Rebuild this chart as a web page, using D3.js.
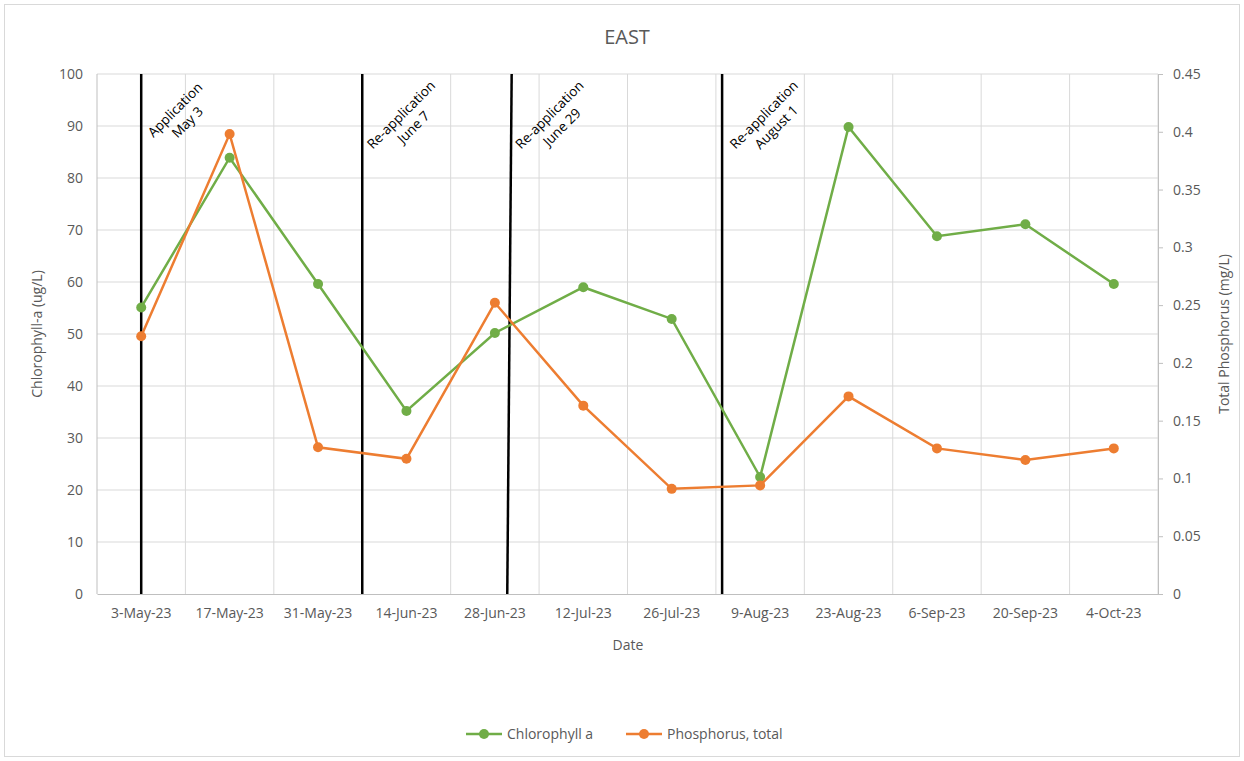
<!DOCTYPE html>
<html><head><meta charset="utf-8">
<script src="https://cdn.jsdelivr.net/npm/d3@7"></script>
<style>body{margin:0;background:#fff}svg{display:block}text{font-family:"Open Sans",sans-serif}</style>
</head><body><svg id="c" width="1244" height="761"></svg>
<script>
const dates = ["3-May-23","17-May-23","31-May-23","14-Jun-23","28-Jun-23","12-Jul-23","26-Jul-23","9-Aug-23","23-Aug-23","6-Sep-23","20-Sep-23","4-Oct-23"];
const chlorophyll = [55.1, 83.9, 59.6, 35.2, 50.2, 59.0, 52.9, 22.5, 89.8, 68.8, 71.1, 59.6];
const phosphorus = [0.223, 0.398, 0.127, 0.117, 0.252, 0.163, 0.091, 0.094, 0.171, 0.126, 0.116, 0.126];
const leftTicks = [0,10,20,30,40,50,60,70,80,90,100];
const rightTicks = [0,0.05,0.1,0.15,0.2,0.25,0.3,0.35,0.4,0.45];
// application events: position expressed as fractional category index (top, bottom)
const eventLabels = [["Application","May 3"],["Re-application","June 7"],["Re-application","June 29"],["Re-application","August 1"]];
const eventPosTop = [0, 2.50, 4.19, 6.57];
const eventPosBottom = [0, 2.50, 4.14, 6.57];

const svg = d3.select("#c");
const m = {l:97, r:1158, t:74, b:594};
svg.append("rect").attr("x",4.5).attr("y",4.5).attr("width",1235).attr("height",752).attr("fill","#fff").attr("stroke","#D9D9D9");

const x = d3.scaleBand().domain(dates).range([m.l,m.r]);
const xi = d3.scaleLinear().domain([-0.5, dates.length-0.5]).range([m.l,m.r]);
const yL = d3.scaleLinear().domain([0,100]).range([m.b,m.t]);
const yR = d3.scaleLinear().domain([0,0.45]).range([m.b,m.t]);
const cx = d => x(d)+x.bandwidth()/2;
const grey="#595959";

// gridlines
const g = svg.append("g");
g.selectAll(".h").data(leftTicks.slice(1)).join("line")
  .attr("x1",m.l).attr("x2",m.r).attr("y1",d=>yL(d)).attr("y2",d=>yL(d)).attr("stroke","#D9D9D9");
g.selectAll(".v").data(d3.range(1,dates.length+1)).join("line")
  .attr("x1",i=>xi(i-0.5)).attr("x2",i=>xi(i-0.5)).attr("y1",m.t).attr("y2",m.b).attr("stroke","#D9D9D9");

// axes
const axL = svg.append("g").attr("transform",`translate(${m.l},0)`).call(d3.axisLeft(yL).tickValues(leftTicks).tickSize(0).tickPadding(14));
const axR = svg.append("g").attr("transform",`translate(${m.r},0)`).call(d3.axisRight(yR).tickValues(rightTicks).tickSize(5).tickPadding(10).tickFormat(d=>String(+d.toFixed(2))));
const axB = svg.append("g").attr("transform",`translate(0,${m.b})`).call(d3.axisBottom(x).tickSize(0).tickPadding(14));
[axL,axR,axB].forEach(a=>{a.select(".domain").attr("stroke","#BFBFBF");a.selectAll(".tick line").attr("stroke","#BFBFBF");a.selectAll("text").attr("fill",grey).attr("font-size",14);});
axL.select(".domain").remove();
svg.append("line").attr("x1",m.l).attr("x2",m.l).attr("y1",m.t).attr("y2",m.b).attr("stroke","#BFBFBF");

// event lines
const labelOffset = [40, 45, 44, 48];
eventLabels.forEach((lab,i)=>{
  const xt = xi(eventPosTop[i]), xb = xi(eventPosBottom[i]);
  svg.append("line").attr("x1",xt).attr("x2",xb).attr("y1",m.t).attr("y2",m.b).attr("stroke","#000").attr("stroke-width",2.5);
  const tx = xt+labelOffset[i], ty = i===0 ? 116 : 121;
  const t = svg.append("text").attr("transform",`translate(${tx},${ty}) rotate(-45)`).attr("text-anchor","middle").attr("font-size",13.5).attr("fill","#000");
  t.append("tspan").attr("x",0).attr("dy","-0.3em").text(lab[0]);
  t.append("tspan").attr("x",0).attr("dy","1.3em").text(lab[1]);
});

// series
const green="#70AD47", orange="#ED7D31";
function series(vals, ys, col){
  svg.append("path").datum(vals).attr("fill","none").attr("stroke",col).attr("stroke-width",2.5)
    .attr("d",d3.line().x((d,i)=>cx(dates[i])).y(d=>ys(d)));
  svg.append("g").selectAll("circle").data(vals).join("circle")
    .attr("cx",(d,i)=>cx(dates[i])).attr("cy",d=>ys(d)).attr("r",5).attr("fill",col);
}
series(chlorophyll, yL, green);
series(phosphorus, yR, orange);

// titles
svg.append("text").attr("x",627).attr("y",44).attr("text-anchor","middle").attr("font-size",20).attr("fill",grey).text("EAST");
svg.append("text").attr("x",628).attr("y",650).attr("text-anchor","middle").attr("font-size",14).attr("fill",grey).text("Date");
svg.append("text").attr("transform","translate(42,334) rotate(-90)").attr("text-anchor","middle").attr("font-size",14).attr("fill",grey).text("Chlorophyll-a (ug/L)");
svg.append("text").attr("transform","translate(1229,334) rotate(-90)").attr("text-anchor","middle").attr("font-size",14).attr("fill",grey).text("Total Phosphorus (mg/L)");

// legend
const leg = [["Chlorophyll a",green,466],["Phosphorus, total",orange,626]];
leg.forEach(([name,col,lx])=>{
  svg.append("line").attr("x1",lx).attr("x2",lx+36).attr("y1",734).attr("y2",734).attr("stroke",col).attr("stroke-width",2.5);
  svg.append("circle").attr("cx",lx+18).attr("cy",734).attr("r",5).attr("fill",col);
  svg.append("text").attr("x",lx+41).attr("y",739).attr("font-size",14).attr("fill",grey).text(name);
});
</script></body></html>
